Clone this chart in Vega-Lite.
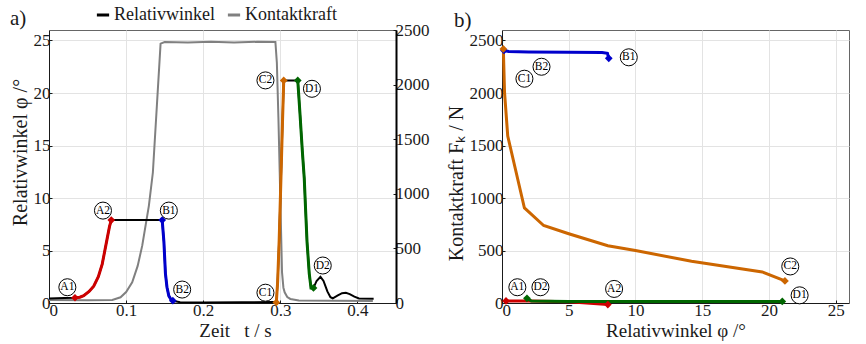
{
  "$schema": "https://vega.github.io/schema/vega-lite/v6.json",
  "autosize": {"type": "pad"},
  "padding": {"left": 9, "top": 6, "right": 0, "bottom": 0},
  "background": "white",
  "config": {
    "font": "Liberation Serif",
    "view": {"stroke": "#666666", "strokeWidth": 1},
    "axis": {
      "labelFont": "Liberation Serif", "titleFont": "Liberation Serif",
      "labelFontSize": 17, "titleFontSize": 19, "titleFontWeight": "normal",
      "labelColor": "#1a1a1a", "titleColor": "#1a1a1a",
      "domainColor": "#1a1a1a", "tickColor": "#1a1a1a", "tickSize": -3,
      "gridColor": "#e3e3e3", "gridWidth": 1, "labelPadding": 2, "titlePadding": 3
    },
    "legend": {
      "labelFont": "Liberation Serif", "labelFontSize": 18, "labelColor": "#1a1a1a", "padding": 0, "offset": 0
    },
    "title": {"font": "Liberation Serif", "fontSize": 21, "fontWeight": "normal", "color": "#1a1a1a"}
  },
  "datasets": {
    "phi": [
      {"t": 0, "phi": 0.43}, {"t": 0.01, "phi": 0.45}, {"t": 0.02, "phi": 0.47}, {"t": 0.0337, "phi": 0.5},
      {"t": 0.04, "phi": 0.55}, {"t": 0.045, "phi": 0.7}, {"t": 0.052, "phi": 1.1}, {"t": 0.058, "phi": 1.6},
      {"t": 0.064, "phi": 2.5}, {"t": 0.069, "phi": 3.7}, {"t": 0.0756, "phi": 6.2}, {"t": 0.0785, "phi": 7.3},
      {"t": 0.0808, "phi": 7.9}, {"t": 0.1468, "phi": 7.9}, {"t": 0.149, "phi": 5.85}, {"t": 0.151, "phi": 2.8},
      {"t": 0.153, "phi": 1.5}, {"t": 0.1554, "phi": 0.68}, {"t": 0.158, "phi": 0.35}, {"t": 0.1606, "phi": 0.22},
      {"t": 0.17, "phi": 0.08}, {"t": 0.2, "phi": 0.04}, {"t": 0.25, "phi": 0.06}, {"t": 0.29, "phi": 0.1},
      {"t": 0.2948, "phi": 0.05}, {"t": 0.2965, "phi": 2}, {"t": 0.2985, "phi": 6}, {"t": 0.3008, "phi": 11.9},
      {"t": 0.3027, "phi": 17}, {"t": 0.3044, "phi": 21.2}, {"t": 0.3226, "phi": 21.2}, {"t": 0.3255, "phi": 18},
      {"t": 0.3285, "phi": 14.5}, {"t": 0.331, "phi": 11.9}, {"t": 0.333, "phi": 8.5}, {"t": 0.3346, "phi": 5.85},
      {"t": 0.3375, "phi": 2.8}, {"t": 0.3398, "phi": 1.43}, {"t": 0.343, "phi": 1.43}, {"t": 0.347, "phi": 2.1},
      {"t": 0.352, "phi": 2.5}, {"t": 0.356, "phi": 2.1}, {"t": 0.361, "phi": 1.1}, {"t": 0.365, "phi": 0.55},
      {"t": 0.368, "phi": 0.45}, {"t": 0.374, "phi": 0.7}, {"t": 0.38, "phi": 0.93}, {"t": 0.385, "phi": 0.98},
      {"t": 0.39, "phi": 0.85}, {"t": 0.396, "phi": 0.6}, {"t": 0.402, "phi": 0.43}, {"t": 0.421, "phi": 0.4}
    ],
    "force": [
      {"t": 0, "F": 27}, {"t": 0.05, "F": 25}, {"t": 0.0821, "F": 27}, {"t": 0.0928, "F": 52},
      {"t": 0.1, "F": 100}, {"t": 0.1079, "F": 189}, {"t": 0.115, "F": 340}, {"t": 0.1209, "F": 525},
      {"t": 0.1295, "F": 890}, {"t": 0.1347, "F": 1195}, {"t": 0.14, "F": 1820}, {"t": 0.1447, "F": 2375},
      {"t": 0.15, "F": 2390}, {"t": 0.18, "F": 2385}, {"t": 0.21, "F": 2392}, {"t": 0.24, "F": 2386},
      {"t": 0.27, "F": 2392}, {"t": 0.2936, "F": 2390}, {"t": 0.2955, "F": 2200}, {"t": 0.2975, "F": 1700},
      {"t": 0.2992, "F": 1195}, {"t": 0.3008, "F": 700}, {"t": 0.3022, "F": 280}, {"t": 0.304, "F": 140},
      {"t": 0.3056, "F": 98}, {"t": 0.309, "F": 55}, {"t": 0.313, "F": 37}, {"t": 0.324, "F": 22},
      {"t": 0.42, "F": 18}
    ],
    "segT": [
      {"seg": "A", "t": 0.0337, "phi": 0.5}, {"seg": "A", "t": 0.04, "phi": 0.55}, {"seg": "A", "t": 0.045, "phi": 0.7},
      {"seg": "A", "t": 0.052, "phi": 1.1}, {"seg": "A", "t": 0.058, "phi": 1.6}, {"seg": "A", "t": 0.064, "phi": 2.5},
      {"seg": "A", "t": 0.069, "phi": 3.7}, {"seg": "A", "t": 0.0756, "phi": 6.2}, {"seg": "A", "t": 0.0785, "phi": 7.3},
      {"seg": "A", "t": 0.0808, "phi": 7.9},
      {"seg": "B", "t": 0.1468, "phi": 7.9}, {"seg": "B", "t": 0.149, "phi": 5.85}, {"seg": "B", "t": 0.151, "phi": 2.8},
      {"seg": "B", "t": 0.153, "phi": 1.5}, {"seg": "B", "t": 0.1554, "phi": 0.68}, {"seg": "B", "t": 0.158, "phi": 0.35},
      {"seg": "B", "t": 0.1606, "phi": 0.22},
      {"seg": "C", "t": 0.2948, "phi": 0.05}, {"seg": "C", "t": 0.2965, "phi": 2}, {"seg": "C", "t": 0.2985, "phi": 6},
      {"seg": "C", "t": 0.3008, "phi": 11.9}, {"seg": "C", "t": 0.3027, "phi": 17}, {"seg": "C", "t": 0.3044, "phi": 21.2},
      {"seg": "D", "t": 0.3226, "phi": 21.2}, {"seg": "D", "t": 0.3255, "phi": 18}, {"seg": "D", "t": 0.3285, "phi": 14.5},
      {"seg": "D", "t": 0.331, "phi": 11.9}, {"seg": "D", "t": 0.333, "phi": 8.5}, {"seg": "D", "t": 0.3346, "phi": 5.85},
      {"seg": "D", "t": 0.3375, "phi": 2.8}, {"seg": "D", "t": 0.3398, "phi": 1.43}, {"seg": "D", "t": 0.343, "phi": 1.43}
    ],
    "mkT": [
      {"seg": "A", "t": 0.0337, "phi": 0.5}, {"seg": "A", "t": 0.0808, "phi": 7.9},
      {"seg": "B", "t": 0.1468, "phi": 7.9}, {"seg": "B", "t": 0.1606, "phi": 0.22},
      {"seg": "C", "t": 0.2948, "phi": 0.05}, {"seg": "C", "t": 0.3044, "phi": 21.2},
      {"seg": "D", "t": 0.3226, "phi": 21.2}, {"seg": "D", "t": 0.343, "phi": 1.43}
    ],
    "labT": [
      {"lab": "A1", "t": 0.0238, "phi": 1.5}, {"lab": "A2", "t": 0.07, "phi": 8.8},
      {"lab": "B1", "t": 0.1554, "phi": 8.8}, {"lab": "B2", "t": 0.1727, "phi": 1.28},
      {"lab": "C1", "t": 0.2807, "phi": 0.98}, {"lab": "C2", "t": 0.2807, "phi": 21.2},
      {"lab": "D1", "t": 0.341, "phi": 20.4}, {"lab": "D2", "t": 0.355, "phi": 3.57}
    ],
    "segP": [
      {"seg": "A", "phi": 0.3, "F": 20}, {"seg": "A", "phi": 2, "F": 18}, {"seg": "A", "phi": 5, "F": 12}, {"seg": "A", "phi": 7.93, "F": -15},
      {"seg": "B", "phi": 8.0, "F": 2330}, {"seg": "B", "phi": 7.9, "F": 2378}, {"seg": "B", "phi": 7.5, "F": 2385},
      {"seg": "B", "phi": 5, "F": 2388}, {"seg": "B", "phi": 2, "F": 2390}, {"seg": "B", "phi": 0.5, "F": 2395}, {"seg": "B", "phi": 0.15, "F": 2405},
      {"seg": "C", "phi": 0.1, "F": 2420}, {"seg": "C", "phi": 0.19, "F": 2005}, {"seg": "C", "phi": 0.43, "F": 1590},
      {"seg": "C", "phi": 1.15, "F": 1195}, {"seg": "C", "phi": 1.68, "F": 905}, {"seg": "C", "phi": 3.12, "F": 738},
      {"seg": "C", "phi": 5, "F": 660}, {"seg": "C", "phi": 7.93, "F": 545}, {"seg": "C", "phi": 10, "F": 500},
      {"seg": "C", "phi": 14.2, "F": 397}, {"seg": "C", "phi": 19.5, "F": 296}, {"seg": "C", "phi": 21.2, "F": 210},
      {"seg": "D", "phi": 21.0, "F": 15}, {"seg": "D", "phi": 15, "F": 15}, {"seg": "D", "phi": 10, "F": 15},
      {"seg": "D", "phi": 5, "F": 15}, {"seg": "D", "phi": 2.2, "F": 18}, {"seg": "D", "phi": 1.87, "F": 45}
    ],
    "mkP": [
      {"seg": "A", "phi": 0.3, "F": 20}, {"seg": "A", "phi": 7.93, "F": -15},
      {"seg": "B", "phi": 8.0, "F": 2330}, {"seg": "B", "phi": 0.15, "F": 2405},
      {"seg": "C", "phi": 0.1, "F": 2420}, {"seg": "C", "phi": 21.2, "F": 210},
      {"seg": "D", "phi": 21.0, "F": 15}, {"seg": "D", "phi": 1.87, "F": 45}
    ],
    "labP": [
      {"lab": "A1", "phi": 1.15, "F": 150}, {"lab": "A2", "phi": 8.4, "F": 134},
      {"lab": "B1", "phi": 9.5, "F": 2340}, {"lab": "B2", "phi": 2.96, "F": 2250},
      {"lab": "C1", "phi": 1.68, "F": 2136}, {"lab": "C2", "phi": 21.6, "F": 348},
      {"lab": "D1", "phi": 22.3, "F": 73}, {"lab": "D2", "phi": 2.88, "F": 150}
    ]
  },
  "hconcat": [
    {
      "width": 347, "height": 273,
      "title": {"text": "a)", "anchor": "start", "frame": "bounds", "offset": -10, "dy": -2},
      "layer": [
        {
          "data": {"name": "force"},
          "mark": {"type": "line", "strokeWidth": 2},
          "encoding": {
            "x": {"field": "t", "type": "quantitative", "scale": {"domain": [0, 0.45]},
              "axis": {"title": "Zeit\u00a0\u00a0\u00a0t / s", "titleX": 186, "values": [0, 0.05, 0.1, 0.15, 0.2, 0.25, 0.3, 0.35, 0.4, 0.45],
                "labelExpr": "(round(datum.value*100) % 10 == 0) ? format(datum.value, '.1~f') : ''", "grid": true}},
            "y": {"field": "F", "type": "quantitative", "scale": {"domain": [0, 2500]},
              "axis": {"orient": "right", "title": null, "values": [0, 500, 1000, 1500, 2000, 2500], "format": "d", "grid": false,
                "domainColor": "#000000", "domainWidth": 2}},
            "color": {"datum": "Kontaktkraft", "type": "nominal",
              "scale": {"domain": ["Relativwinkel", "Kontaktkraft"], "range": ["#000000", "#808080"]},
              "legend": {"orient": "none", "legendX": 45, "legendY": -24, "direction": "horizontal", "title": null,
                "symbolType": "stroke", "symbolStrokeWidth": 3, "symbolSize": 150, "columnPadding": 6, "labelOffset": 2}}
          }
        },
        {
          "layer": [
            {
              "data": {"name": "phi"},
              "mark": {"type": "line", "strokeWidth": 2},
              "encoding": {
                "x": {"field": "t", "type": "quantitative"},
                "y": {"field": "phi", "type": "quantitative", "scale": {"domain": [0, 25]},
                  "axis": {"title": "Relativwinkel φ /°", "titleFontSize": 20, "titleY": 122, "values": [0, 5, 10, 15, 20, 25], "grid": true}},
                "color": {"datum": "Relativwinkel", "type": "nominal"}
              }
            },
            {
              "data": {"name": "segT"},
              "mark": {"type": "line", "strokeWidth": 3},
              "encoding": {
                "x": {"field": "t", "type": "quantitative"},
                "y": {"field": "phi", "type": "quantitative"},
                "stroke": {"field": "seg", "type": "nominal",
                  "scale": {"domain": ["A", "B", "C", "D"], "range": ["#cc0000", "#0000cc", "#cc6600", "#006600"]}, "legend": null}
              }
            },
            {
              "data": {"name": "mkT"},
              "mark": {"type": "point", "shape": "diamond", "filled": true, "size": 60, "opacity": 1},
              "encoding": {
                "x": {"field": "t", "type": "quantitative"},
                "y": {"field": "phi", "type": "quantitative"},
                "fill": {"field": "seg", "type": "nominal",
                  "scale": {"domain": ["A", "B", "C", "D"], "range": ["#cc0000", "#0000cc", "#cc6600", "#006600"]}, "legend": null}
              }
            },
            {
              "data": {"name": "labT"},
              "mark": {"type": "point", "shape": "circle", "filled": true, "fill": "white", "stroke": "#000000", "strokeWidth": 1, "size": 290, "opacity": 1},
              "encoding": {
                "x": {"field": "t", "type": "quantitative"},
                "y": {"field": "phi", "type": "quantitative"}
              }
            },
            {
              "data": {"name": "labT"},
              "mark": {"type": "text", "fontSize": 11.5, "font": "Liberation Serif", "align": "center", "baseline": "middle", "color": "#000000"},
              "encoding": {
                "x": {"field": "t", "type": "quantitative"},
                "y": {"field": "phi", "type": "quantitative"},
                "text": {"field": "lab"}
              }
            }
          ]
        }
      ],
      "resolve": {"scale": {"y": "independent"}}
    },
    {
      "width": 347, "height": 273,
      "title": {"text": "b)", "anchor": "start", "frame": "bounds", "offset": -10, "dx": 8, "dy": -9},
      "layer": [
        {
          "data": {"name": "segP"},
          "mark": {"type": "line", "strokeWidth": 3},
          "encoding": {
            "x": {"field": "phi", "type": "quantitative", "scale": {"domain": [0, 25]},
              "axis": {"title": "Relativwinkel φ /°", "values": [0, 5, 10, 15, 20, 25], "grid": true}},
            "y": {"field": "F", "type": "quantitative", "scale": {"domain": [0, 2500]},
              "axis": {"title": "Kontaktkraft  Fₖ / N", "titleFontSize": 20, "titleY": 153, "values": [0, 500, 1000, 1500, 2000, 2500], "format": "d", "grid": true}},
            "stroke": {"field": "seg", "type": "nominal", "legend": null}
          }
        },
        {
          "data": {"name": "mkP"},
          "mark": {"type": "point", "shape": "diamond", "filled": true, "size": 60, "opacity": 1},
          "encoding": {
            "x": {"field": "phi", "type": "quantitative"},
            "y": {"field": "F", "type": "quantitative"},
            "fill": {"field": "seg", "type": "nominal", "legend": null}
          }
        },
        {
          "data": {"name": "labP"},
          "mark": {"type": "point", "shape": "circle", "filled": true, "fill": "white", "stroke": "#000000", "strokeWidth": 1, "size": 290, "opacity": 1},
          "encoding": {
            "x": {"field": "phi", "type": "quantitative"},
            "y": {"field": "F", "type": "quantitative"}
          }
        },
        {
          "data": {"name": "labP"},
          "mark": {"type": "text", "fontSize": 11.5, "font": "Liberation Serif", "align": "center", "baseline": "middle", "color": "#000000"},
          "encoding": {
            "x": {"field": "phi", "type": "quantitative"},
            "y": {"field": "F", "type": "quantitative"},
            "text": {"field": "lab"}
          }
        }
      ]
    }
  ],
  "spacing": 106,
  "bounds": "flush"
}
